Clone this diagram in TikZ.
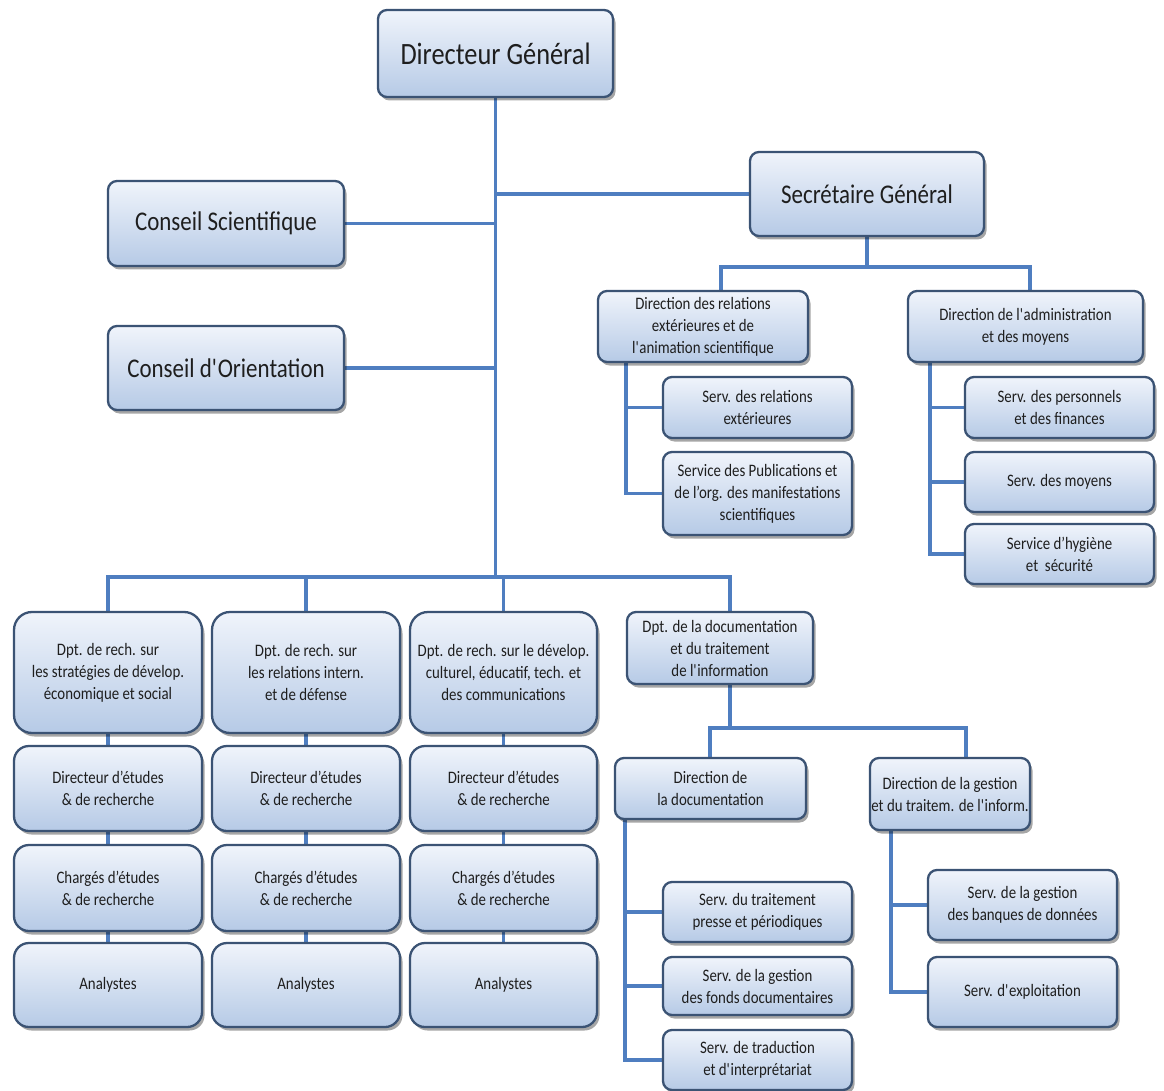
\documentclass[tikz,border=0pt]{standalone}
\usepackage{fontspec}
\setmainfont[FakeStretch=0.85]{Carlito}
\usetikzlibrary{shadows,backgrounds}

\newcommand\ap{\textquotesingle}

\definecolor{linkblue}{HTML}{4F7EC0}
\definecolor{boxedge}{HTML}{3B5374}
\definecolor{boxtop}{HTML}{F0F4FB}
\definecolor{boxbot}{HTML}{B6CAE6}
\definecolor{inktext}{HTML}{1E1E1E}

\tikzset{
  org/.style={draw=boxedge, line width=2.3pt, rounded corners=9pt,
    top color=boxtop, bottom color=boxbot, align=center, text=inktext,
    inner sep=0pt, font=\fontsize{17.5}{22}\selectfont,
    drop shadow={shadow xshift=2.5pt, shadow yshift=-3.5pt, fill=black, opacity=0.35}},
  sz/.style 2 args={minimum width=#1pt, minimum height=#2pt},
  bigbox/.style={org, font=\fontsize{27}{32}\selectfont},
  headbox/.style={org, font=\fontsize{31}{36}\selectfont},
  dept/.style={org, rounded corners=18pt},
  cell/.style={org, rounded corners=15pt},
  link/.style={draw=linkblue, line width=3.5pt, line join=miter}
}

\begin{document}
\begin{tikzpicture}[x=1pt, y=-1pt]
\useasboundingbox (0,0) rectangle (1164,1091);

% top level
\node[headbox, sz={235}{87}] (dg) at (495.5,53.5) {Directeur Général};
\node[bigbox, sz={236}{85}] (cs) at (226,223.5) {Conseil Scientifique};
\node[bigbox, sz={236}{84}] (co) at (226,368) {Conseil d\ap Orientation};
\node[bigbox, sz={234}{84}] (sg) at (867,194) {Secrétaire Général};

% secretariat branch
\node[org, sz={210}{71}] (dr) at (703,326.5) {Direction des relations\\extérieures et de\\l\ap animation scientifique};
\node[org, sz={235}{71}] (da) at (1025.5,326.5) {Direction de l\ap administration\\et des moyens};
\node[org, sz={189}{61}] (sre) at (757.5,407.5) {Serv. des relations\\extérieures};
\node[org, sz={189}{83}] (spub) at (757.5,493.5) {Service des Publications et\\de l’org. des manifestations\\scientifiques};
\node[org, sz={189}{61}] (spf) at (1059.5,407.5) {Serv. des personnels\\et des finances};
\node[org, sz={189}{60}] (smoy) at (1059.5,482) {Serv. des moyens};
\node[org, sz={189}{60}] (shyg) at (1059.5,554) {Service d’hygiène\\et\ \ sécurité};

% research departments
\node[dept, sz={188}{121}] (d1) at (108,672.5) {Dpt. de rech. sur\\les stratégies de dévelop.\\économique et social};
\node[dept, sz={188}{121}] (d2) at (306,672.5) {Dpt. de rech. sur\\les relations intern.\\et de défense};
\node[dept, sz={187}{121}] (d3) at (503.5,672.5) {Dpt. de rech. sur le dévelop.\\culturel, éducatif, tech. et\\des communications};
\node[org, sz={186}{72}] (ddoc) at (720,648) {Dpt. de la documentation\\et du traitement\\de l\ap information};

\node[cell, sz={188}{85}] (de1) at (108,788.5) {Directeur d’études\\\& de recherche};
\node[cell, sz={188}{85}] (de2) at (306,788.5) {Directeur d’études\\\& de recherche};
\node[cell, sz={187}{85}] (de3) at (503.5,788.5) {Directeur d’études\\\& de recherche};
\node[cell, sz={188}{86}] (ce1) at (108,888) {Chargés d’études\\\& de recherche};
\node[cell, sz={188}{86}] (ce2) at (306,888) {Chargés d’études\\\& de recherche};
\node[cell, sz={187}{86}] (ce3) at (503.5,888) {Chargés d’études\\\& de recherche};
\node[cell, sz={188}{84}] (an1) at (108,985) {Analystes};
\node[cell, sz={188}{84}] (an2) at (306,985) {Analystes};
\node[cell, sz={187}{84}] (an3) at (503.5,985) {Analystes};

% documentation branch
\node[org, sz={191}{61}] (ddir) at (710.5,788.5) {Direction de\\la documentation};
\node[org, sz={160}{72}] (dges) at (950,794) {Direction de la gestion\\et du traitem. de l\ap inform.};
\node[org, sz={189}{60}] (stp) at (757.5,912) {Serv. du traitement\\presse et périodiques};
\node[org, sz={189}{58}] (sfd) at (757.5,986) {Serv. de la gestion\\des fonds documentaires};
\node[org, sz={189}{60}] (str) at (757.5,1060) {Serv. de traduction\\et d\ap interprétariat};
\node[org, sz={189}{70}] (sbq) at (1022.5,905) {Serv. de la gestion\\des banques de données};
\node[org, sz={189}{70}] (sexp) at (1022.5,992) {Serv. d\ap exploitation};

% junction points
\coordinate (busL) at (108,577);
\coordinate (busR) at (730,577);
\coordinate (drtap) at (721,267);
\coordinate (datap) at (1030,267);
\coordinate (drsp) at (626,0);
\coordinate (dasp) at (930,0);
\coordinate (doctapL) at (710,728);
\coordinate (doctapR) at (966,728);
\coordinate (ddsp) at (625,0);
\coordinate (dgsp) at (891,0);

\begin{scope}[on background layer]
  % trunk and its side branches
  \draw[link] (dg.south) -- (dg.south |- busL);
  \draw[link] (sg.west) -- (sg.west -| dg.south);
  \draw[link] (cs.east) -- (cs.east -| dg.south);
  \draw[link] (co.east) -- (co.east -| dg.south);
  % secretariat
  \draw[link] (sg.south) -- (sg.south |- drtap);
  \draw[link] (dr.north -| drtap) -- (drtap) -- (datap) -- (da.north -| datap);
  \draw[link] (dr.south -| drsp) -- (spub.west -| drsp) -- (spub.west);
  \draw[link] (sre.west -| drsp) -- (sre.west);
  \draw[link] (da.south -| dasp) -- (shyg.west -| dasp) -- (shyg.west);
  \draw[link] (spf.west -| dasp) -- (spf.west);
  \draw[link] (smoy.west -| dasp) -- (smoy.west);
  % departments bus
  \draw[link] (d1.north) -- (busL) -- (busR) -- (ddoc.north -| busR);
  \draw[link] (d2.north) -- (d2.north |- busL);
  \draw[link] (d3.north) -- (d3.north |- busL);
  % department columns
  \draw[link] (d1) -- (an1);
  \draw[link] (d2) -- (an2);
  \draw[link] (d3) -- (an3);
  % documentation
  \draw[link] (ddoc.south -| busR) -- (busR |- doctapL);
  \draw[link] (ddir.north -| doctapL) -- (doctapL) -- (doctapR) -- (dges.north -| doctapR);
  \draw[link] (ddir.south -| ddsp) -- (str.west -| ddsp) -- (str.west);
  \draw[link] (stp.west -| ddsp) -- (stp.west);
  \draw[link] (sfd.west -| ddsp) -- (sfd.west);
  \draw[link] (dges.south -| dgsp) -- (sexp.west -| dgsp) -- (sexp.west);
  \draw[link] (sbq.west -| dgsp) -- (sbq.west);
\end{scope}
\end{tikzpicture}
\end{document}
